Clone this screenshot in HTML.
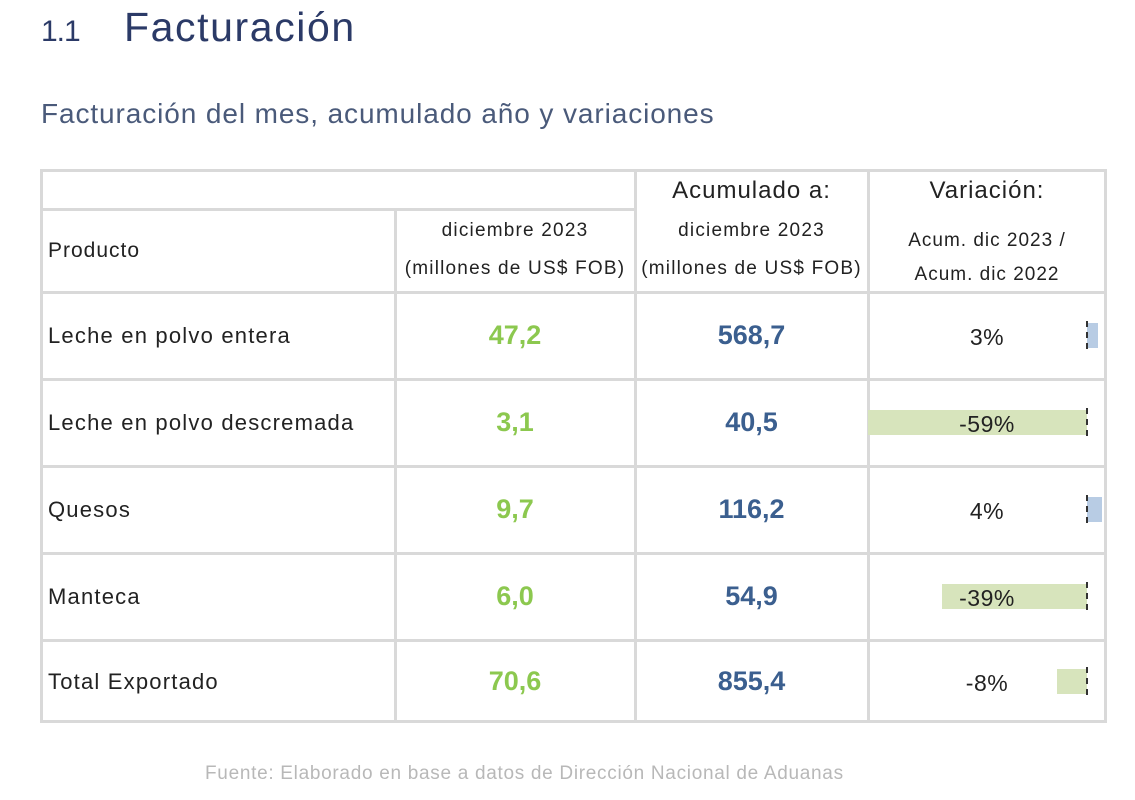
<!DOCTYPE html>
<html><head><meta charset="utf-8"><style>
body{margin:0;width:1135px;height:800px;background:#fff;position:relative;overflow:hidden;font-family:"Liberation Sans",sans-serif}
.a{position:absolute}
.t{white-space:nowrap}
.ln{position:absolute;background:#d9d9d9}
.c{position:absolute;text-align:center;white-space:nowrap}
</style></head><body>
<div class="a t" style="left:41px;top:15px;font-size:30px;color:#2b3a67;letter-spacing:-1px">1.1</div>
<div class="a t" style="left:124px;top:4px;font-size:41px;color:#2b3a67;letter-spacing:1.6px">Facturación</div>
<div class="a t" style="left:41px;top:98px;font-size:28px;color:#4a5a7a;letter-spacing:0.9px">Facturación del mes, acumulado año y variaciones</div>
<div id="tbl"></div>
<div class="a t" style="left:205px;top:763px;font-size:19px;color:#b8b8b8;letter-spacing:0.7px">Fuente: Elaborado en base a datos de Dirección Nacional de Aduanas</div>
<script>
const products=["Leche en polvo entera","Leche en polvo descremada","Quesos","Manteca","Total Exportado"];
const monthVals=["47,2","3,1","9,7","6,0","70,6"];
const accumVals=["568,7","40,5","116,2","54,9","855,4"];
const variation=[3,-59,4,-39,-8];
const rowTops=[291,378,465,552,639,722];
const body=document.body;
function add(cls,style,text,name){const d=document.createElement('div');d.className=cls;d.setAttribute('style',style);if(text!=null)d.innerHTML=text;


body.appendChild(d);return d;}
[169,210,291,378,465,552,639,720].forEach((y,i)=>{add('ln',`left:41px;top:${y}px;width:1066px;height:3px`,null,'row-line');});
document.querySelectorAll('.ln')[1].style.cssText='left:41px;top:208px;width:594px;height:3px';
add('ln','left:40px;top:169px;width:3px;height:554px',null,'col-line');
add('ln','left:394px;top:210px;width:3px;height:513px',null,'col-line');
add('ln','left:634px;top:169px;width:3px;height:554px',null,'col-line');
add('ln','left:867px;top:169px;width:3px;height:554px',null,'col-line');
add('ln','left:1104px;top:169px;width:3px;height:554px',null,'col-line');
const hs='font-size:21px;color:#222;letter-spacing:1px;';
add('a t',hs+'left:48px;top:239px','Producto','header-product');
add('c','font-size:19px;color:#222;letter-spacing:1.2px;left:395px;width:240px;top:212px;line-height:38px','diciembre 2023<br>(millones de US$ FOB)','header-month');
add('c','font-size:24px;color:#222;letter-spacing:1px;left:635px;width:233px;top:177px','Acumulado a:','header-accum');
add('c','font-size:19px;color:#222;letter-spacing:1.2px;left:635px;width:233px;top:212px;line-height:38px','diciembre 2023<br>(millones de US$ FOB)','header-accum-sub');
add('c','font-size:24px;color:#222;letter-spacing:1px;left:868px;width:238px;top:177px','Variación:','header-variation');
add('c','font-size:19px;color:#222;letter-spacing:1px;left:868px;width:238px;top:224px;line-height:34px','Acum. dic 2023 /<br>Acum. dic 2022','header-variation-sub');
const zero=1087,ppu=3.71;
products.forEach((p,i)=>{
 const top=rowTops[i],h=rowTops[i+1]-top,mid=top+h/2;
 add('a t',`font-size:22px;color:#222;letter-spacing:1.2px;left:48px;top:${mid-12}px`,p,'product-label');
 add('c',`font-size:27px;font-weight:bold;color:#8cc84f;left:395px;width:240px;top:${mid-15}px`,monthVals[i],'month-value');
 add('c',`font-size:27px;font-weight:bold;color:#3b5f8f;left:635px;width:233px;top:${mid-15}px`,accumVals[i],'accum-value');
 const v=variation[i],w=Math.abs(v)*ppu;
 const x=v<0?zero-w:zero;
 add('a',`left:${x}px;top:${mid-12}px;width:${w}px;height:25px;background:${v<0?'#d7e4bc':'#b8cce4'}`,null,'variation-bar');
 add('a',`left:${zero-1}px;top:${mid-14}px;width:0;height:28px;border-left:2px dashed #333`,null,'zero-axis');
 add('c',`font-size:23px;color:#222;letter-spacing:0.5px;left:868px;width:238px;top:${mid-11}px`,v+'%','variation-value');
});
</script>
</body></html>
